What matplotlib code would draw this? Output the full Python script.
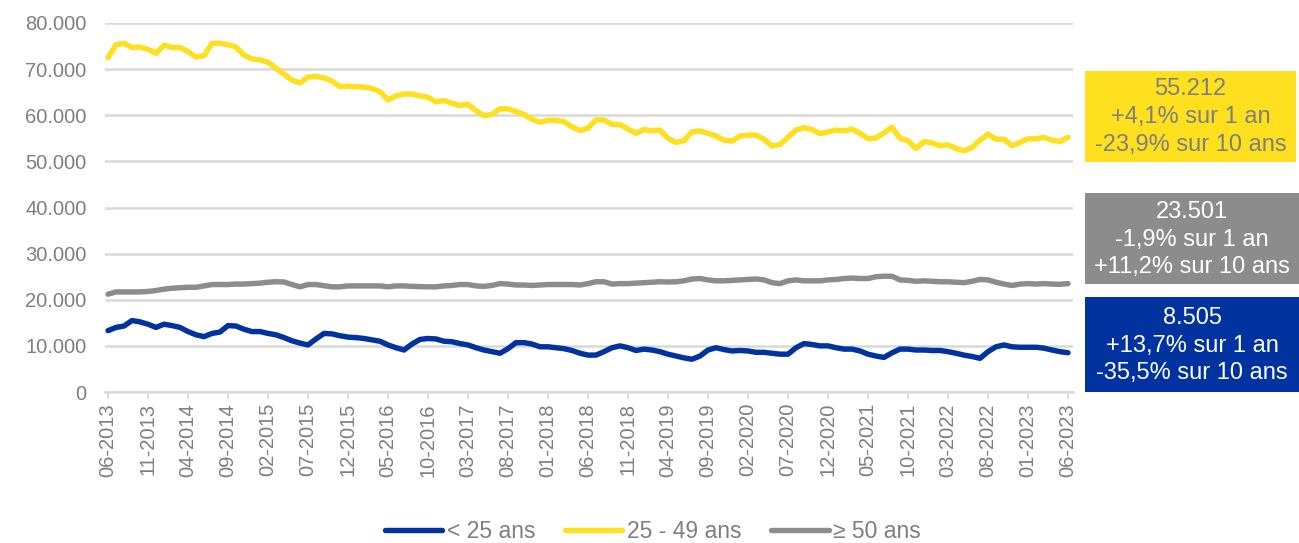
import numpy as np
import pandas as pd
import matplotlib
matplotlib.use("Agg")
import matplotlib.pyplot as plt
from matplotlib.patches import Rectangle
from matplotlib.ticker import FuncFormatter

plt.rcParams['font.family'] = ['Liberation Sans', 'DejaVu Sans']

# ---- data (thousands) ----
months = [d.strftime("%m-%Y") for d in pd.date_range("2013-06-01", "2023-06-01", freq="MS")]

age_25_49 = [72.5, 75.3, 75.6, 74.7, 74.8, 74.3, 73.4, 75.2, 74.7, 74.7,
             73.8, 72.6, 72.9, 75.6, 75.6, 75.3, 74.8, 73.0, 72.2, 72.0,
             71.5, 70.2, 68.9, 67.6, 67.0, 68.3, 68.4, 68.1, 67.4, 66.2,
             66.3, 66.2, 66.1, 65.8, 65.1, 63.3, 64.2, 64.6, 64.6, 64.2,
             63.9, 62.9, 63.2, 62.6, 62.1, 62.4, 61.0, 59.9, 60.2, 61.4,
             61.4, 60.8, 60.2, 59.1, 58.5, 58.9, 58.9, 58.6, 57.5, 56.7,
             57.2, 59.0, 59.0, 58.0, 58.0, 57.0, 56.1, 56.9, 56.6, 56.8,
             55.0, 54.1, 54.5, 56.4, 56.6, 56.1, 55.5, 54.6, 54.4, 55.5,
             55.7, 55.7, 54.8, 53.3, 53.7, 55.2, 56.8, 57.3, 56.9, 56.0,
             56.4, 56.8, 56.6, 57.0, 56.1, 54.9, 55.1, 56.2, 57.4, 55.0,
             54.5, 52.8, 54.3, 54.0, 53.4, 53.6, 52.8, 52.3, 53.0, 54.6,
             55.9, 54.8, 54.8, 53.4, 54.1, 54.9, 54.9, 55.2, 54.6, 54.3,
             55.212]

age_50_plus = [21.2, 21.7, 21.7, 21.7, 21.7, 21.8, 22.0, 22.3, 22.5, 22.6,
               22.7, 22.7, 23.0, 23.3, 23.3, 23.3, 23.4, 23.4, 23.5, 23.6,
               23.8, 23.9, 23.85, 23.3, 22.8, 23.3, 23.3, 23.05, 22.8, 22.8,
               23.0, 23.0, 23.0, 23.0, 23.0, 22.8, 23.0, 23.0, 22.9, 22.85,
               22.8, 22.8, 23.0, 23.1, 23.3, 23.3, 23.0, 22.9, 23.1, 23.5,
               23.4, 23.2, 23.2, 23.1, 23.2, 23.3, 23.3, 23.3, 23.3, 23.2,
               23.5, 23.9, 23.9, 23.4, 23.5, 23.5, 23.6, 23.7, 23.8, 23.9,
               23.85, 23.9, 24.1, 24.5, 24.6, 24.3, 24.1, 24.1, 24.2, 24.3,
               24.4, 24.5, 24.3, 23.7, 23.5, 24.1, 24.3, 24.1, 24.1, 24.1,
               24.3, 24.4, 24.6, 24.7, 24.6, 24.6, 25.0, 25.1, 25.1, 24.3,
               24.2, 24.0, 24.1, 24.0, 23.9, 23.9, 23.8, 23.7, 24.0, 24.4,
               24.3, 23.8, 23.4, 23.1, 23.4, 23.5, 23.4, 23.5, 23.4, 23.35,
               23.501]

age_under_25 = [13.3, 14.0, 14.3, 15.5, 15.2, 14.7, 14.0, 14.7, 14.4, 14.0,
                13.1, 12.4, 12.0, 12.7, 13.0, 14.4, 14.3, 13.6, 13.1, 13.1,
                12.7, 12.4, 11.8, 11.1, 10.6, 10.2, 11.5, 12.7, 12.6, 12.2,
                11.9, 11.8, 11.6, 11.3, 11.0, 10.2, 9.6, 9.1, 10.4, 11.4,
                11.6, 11.5, 11.0, 10.9, 10.5, 10.2, 9.6, 9.1, 8.75, 8.4,
                9.4, 10.7, 10.7, 10.4, 9.8, 9.8, 9.6, 9.4, 9.0, 8.4,
                8.0, 8.0, 8.75, 9.6, 10.0, 9.6, 9.0, 9.3, 9.1, 8.75,
                8.2, 7.8, 7.4, 7.1, 7.8, 9.1, 9.6, 9.2, 8.9, 9.0,
                8.9, 8.6, 8.6, 8.4, 8.2, 8.2, 9.6, 10.5, 10.3, 10.0,
                10.0, 9.6, 9.3, 9.3, 8.9, 8.2, 7.8, 7.5, 8.5, 9.3,
                9.3, 9.1, 9.1, 9.0, 9.0, 8.75, 8.4, 8.0, 7.7, 7.3,
                8.75, 9.8, 10.2, 9.8, 9.7, 9.7, 9.7, 9.5, 9.1, 8.75,
                8.505]

series_labels = ["< 25 ans", "25 - 49 ans", "\u2265 50 ans"]
box_yellow = ["55.212", "+4,1% sur 1 an", "-23,9% sur 10 ans"]
box_gray = ["23.501", "-1,9% sur 1 an", "+11,2% sur 10 ans"]
box_blue = ["8.505", "+13,7% sur 1 an", "-35,5% sur 10 ans"]

BLUE = "#0033A0"
YELLOW = "#FFE01E"
GRAY = "#8C8C8D"
TXT = "#7F7F7F"
GRID = "#D9D9D9"

W, H = 1299, 543
fig = plt.figure(figsize=(W / 100, H / 100), dpi=100)

def fx(px):
    return px / W

def fy(py):
    return 1 - py / H

ax = fig.add_axes([fx(104.8), fy(392), fx(1072.8 - 104.8), (392 - 23) / H])

x = np.arange(len(months))
lw = 3.9
ax.plot(x, np.array(age_under_25) * 1000, color=BLUE, lw=lw, label=series_labels[0], solid_joinstyle='round', solid_capstyle='round')
ax.plot(x, np.array(age_25_49) * 1000, color=YELLOW, lw=lw, label=series_labels[1], solid_joinstyle='round', solid_capstyle='round')
ax.plot(x, np.array(age_50_plus) * 1000, color=GRAY, lw=lw, label=series_labels[2], solid_joinstyle='round', solid_capstyle='round')

ax.set_xlim(-0.4, len(months) - 1 + 0.6)
ax.set_ylim(0, 80000)
ax.set_yticks(np.arange(0, 80001, 10000))
ax.yaxis.set_major_formatter(FuncFormatter(lambda v, p: "0" if v == 0 else f"{int(v):,}".replace(",", ".")))
ax.grid(axis='y', color=GRID, lw=1.8)
ax.set_axisbelow(True)

tick_idx = list(range(0, len(months), 5))
ax.set_xticks(tick_idx)
ax.set_xticklabels([months[i] for i in tick_idx], rotation=90)

for s in ['left', 'right', 'top']:
    ax.spines[s].set_visible(False)
ax.spines['bottom'].set_color(GRID)
ax.spines['bottom'].set_linewidth(1.8)

ax.tick_params(axis='y', length=0, pad=13, labelsize=14.5, labelcolor=TXT)
ax.tick_params(axis='x', length=5, width=1.3, color=GRID, pad=3, labelsize=14.5, labelcolor=TXT)

# right-hand annotation boxes
boxes = [
    (box_yellow, YELLOW, TXT, 1085, 1296, 71, 162, [89, 117, 145]),
    (box_gray, GRAY, "white", 1085, 1299, 193, 284, [212, 240, 267.5]),
    (box_blue, BLUE, "white", 1085, 1299, 297, 392, [318.5, 346, 373.5]),
]
for lines, fc, tc, x0, x1, y0, y1, ys in boxes:
    fig.add_artist(Rectangle((fx(x0), fy(y1)), fx(x1 - x0), (y1 - y0) / H,
                             transform=fig.transFigure, facecolor=fc, edgecolor='none'))
    cx = (x0 + x1) / 2
    for line, yy in zip(lines, ys):
        fig.text(fx(cx), fy(yy), line, ha='center', va='center', fontsize=17, color=tc)

fig.legend(loc='center', bbox_to_anchor=(fx(653), fy(532)), ncol=3, frameon=False,
           fontsize=16.5, labelcolor=TXT, handlelength=2.5, handletextpad=0.2,
           columnspacing=1.3, borderpad=0, borderaxespad=0)

fig.savefig("out.png", dpi=100)
